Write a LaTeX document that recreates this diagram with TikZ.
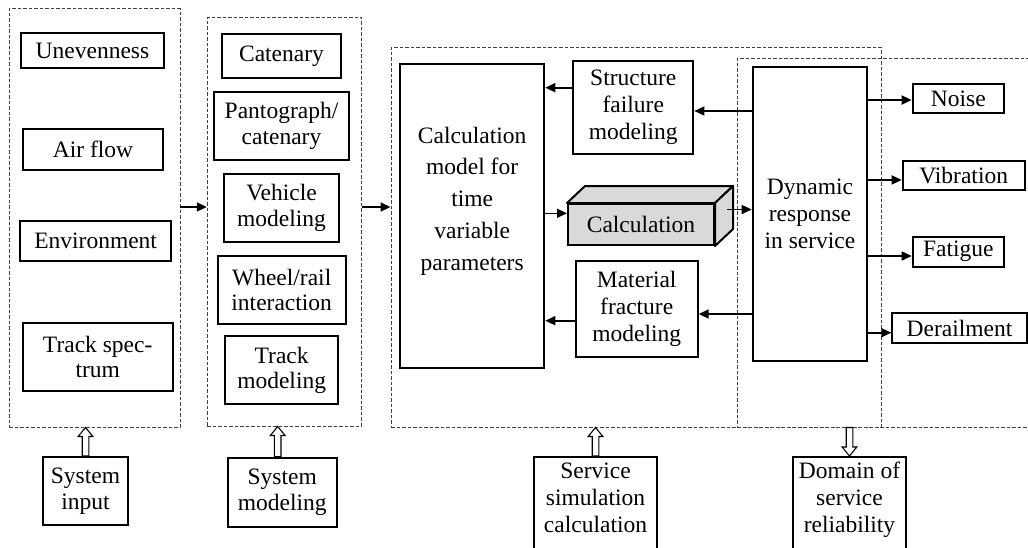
\documentclass[tikz,border=0pt]{standalone}
\usepackage{fontspec}
\setmainfont{Liberation Serif}
\usetikzlibrary{arrows.meta,calc}

\tikzset{
  blk/.style={draw=black, line width=2pt, fill=white, inner sep=0pt, align=center,
    font=\fontsize{23.5}{25.5}\selectfont},
  sz/.style 2 args={minimum width=#1, minimum height=#2},
  grp/.style={draw=black!75, line width=0.9pt, dash pattern=on 3.5pt off 2pt, inner sep=0pt},
  arr/.style={line width=1.6pt, -{Triangle[length=10pt,width=9pt]}},
  hollow/.style={draw=black, line width=1.1pt, fill=white},
  lbl/.style={inner sep=0pt, align=center},
}

% open block arrow pointing up from a box to a group frame
\newcommand\hollowup[2]{%
  \draw[hollow] let \p1=(#1), \p2=(#2) in
    (\x1-3.3pt,\y1) -- (\x1-3.3pt,\y2-9pt) -- (\x1-7.3pt,\y2-9pt) -- (\x1,\y2)
    -- (\x1+7.3pt,\y2-9pt) -- (\x1+3.3pt,\y2-9pt) -- (\x1+3.3pt,\y1) -- cycle;}
% open block arrow pointing down from a group frame to a box
\newcommand\hollowdown[2]{%
  \draw[hollow] let \p1=(#1), \p2=(#2) in
    (\x1-3.3pt,\y2) -- (\x1-3.3pt,\y1+9pt) -- (\x1-7.3pt,\y1+9pt) -- (\x1,\y1)
    -- (\x1+7.3pt,\y1+9pt) -- (\x1+3.3pt,\y1+9pt) -- (\x1+3.3pt,\y2) -- cycle;}

\begin{document}
\begin{tikzpicture}[x=1pt,y=-1pt]
\useasboundingbox (0,0) rectangle (1028,547);
\clip (0,0) rectangle (1028,547);

% group frames
\node[grp, sz={171}{418.3}] (grp1) at (94.5,217.85) {};
\node[grp, sz={154.4}{408.5}] (grp2) at (284.5,221.75) {};
\node[grp, sz={490}{379.7}] (grp3) at (636,237.15) {};
\node[grp, sz={303}{368.7}] (grp4) at (888.5,242.65) {};

% system input
\node[blk, sz={143}{35}] (uneven) at (92.5,50.5) {Unevenness};
\node[blk, sz={140.6}{41.4}] (air) at (93,149.3) {Air flow};
\node[blk, sz={151.3}{40}] (env) at (95.65,241) {Environment};
\node[blk, sz={150}{68}] (spec) at (97.7,357) {Track spec-\\trum};
\node[blk, sz={85.6}{68}] (sysin) at (85.5,491) {System\\input};

% system modeling
\node[blk, sz={119.6}{43.4}] (caten) at (281.5,55.9) {Catenary};
\node[blk, sz={134.4}{68.5}] (panto) at (281.5,125.75) {Pantograph/\\catenary};
\node[blk, sz={115}{68.1}] (vehic) at (281.5,207.75) {Vehicle\\modeling};
\node[blk, sz={128}{68.3}] (wheel) at (281.7,290.15) {Wheel/rail\\interaction};
\node[blk, sz={113.3}{68.3}] (track) at (281.65,370.15) {Track\\modeling};
\node[blk, sz={109}{68.9}] (sysmod) at (282.2,492.15) {System\\modeling};

% service simulation
\node[blk, sz={144.3}{303.4}] (calcm) at (472.15,216) {};
\node[lbl, font=\fontsize{23.5}{31.7}\selectfont] (calcmtext) at (472.15,201)
  {Calculation\\model for\\time\\variable\\parameters};
\node[blk, sz={120}{93.3}, font=\fontsize{23.5}{26.7}\selectfont] (struct) at (633.3,107.35)
  {Structure\\failure\\modeling};
\node[blk, sz={146}{41}, fill=gray!30] (cube) at (641,224.5) {Calculation};
\draw[line width=2pt, fill=gray!30, line join=round]
  (cube.north west) -- ++(18,-17) -- ($(cube.north east)+(18,-17)$) -- (cube.north east) -- cycle;
\draw[line width=2pt, fill=gray!30, line join=round]
  (cube.north east) -- ++(18,-17) -- ($(cube.south east)+(18,-17)$) -- (cube.south east) -- cycle;
\node[blk, sz={122}{96}, font=\fontsize{23.5}{26.7}\selectfont] (mater) at (636.7,308.7)
  {Material\\fracture\\modeling};

% service reliability
\node[blk, sz={114.6}{294.3}, font=\fontsize{23.5}{26.7}\selectfont] (dyn) at (810,213.85)
  {Dynamic\\response\\in service};
\node[blk, sz={91.3}{29.3}] (noise) at (958.35,98.65) {Noise};
\node[blk, sz={122}{29.3}] (vibr) at (963.7,175.35) {Vibration};
\node[blk, sz={91.3}{30}] (fatig) at (958.35,251.7) {Fatigue};
\node[blk, sz={134.4}{29.4}] (derail) at (959.5,328) {Derailment};

% captions below the frames
\node[blk, sz={123}{103}] (servbox) at (595.5,508.5) {};
\node[lbl, anchor=north, font=\fontsize{23.5}{26.7}\selectfont] (servtext) at (595.5,463)
  {Service\\simulation\\calculation};
\node[blk, sz={113}{103}] (domainbox) at (849.5,508.5) {};
\node[lbl, anchor=north, font=\fontsize{23.5}{26.7}\selectfont] (domaintext) at (849.5,462)
  {Domain of\\service\\reliability};

% rows of the connectors
\coordinate (flowrow) at (0,207);
\coordinate (rowcalc) at (0,213.3);
\coordinate (cubeout) at (727,209.5);
\coordinate (rowstructin) at (0,87.7);
\coordinate (rowstructout) at (0,111);
\coordinate (rowmatout) at (0,314);
\coordinate (rowmatin) at (0,320.7);

\draw[arr] (grp1.east |- flowrow) -- (grp2.west |- flowrow);
\draw[arr] (grp2.east |- flowrow) -- (grp3.west |- flowrow);
\draw[arr] (calcm.east |- rowcalc) -- (cube.west |- rowcalc);
\draw[arr] (cubeout) -- (dyn.west |- cubeout);
\draw[arr] (struct.west |- rowstructin) -- (calcm.east |- rowstructin);
\draw[arr] (dyn.west |- rowstructout) -- (struct.east |- rowstructout);
\draw[arr] (dyn.west |- rowmatout) -- (mater.east |- rowmatout);
\draw[arr] (mater.west |- rowmatin) -- (calcm.east |- rowmatin);
\draw[arr] ($(dyn.east |- noise.west)+(0,1.4)$) -- ($(noise.west)+(0,1.4)$);
\draw[arr] ($(dyn.east |- vibr.west)+(0,4.6)$) -- ($(vibr.west)+(0,4.6)$);
\draw[arr] ($(dyn.east |- fatig.west)+(0,4.3)$) -- ($(fatig.west)+(0,4.3)$);
\draw[arr] ($(dyn.east |- derail.west)+(0,4.7)$) -- ($(derail.west)+(0,4.7)$);

% block arrows between captions and frames
\hollowup{sysin.north}{grp1.south}
\hollowup{$(sysmod.north)+(-4.5,0)$}{grp2.south}
\hollowup{servbox.north}{grp3.south}
\hollowdown{domainbox.north}{grp4.south}
\end{tikzpicture}
\end{document}
